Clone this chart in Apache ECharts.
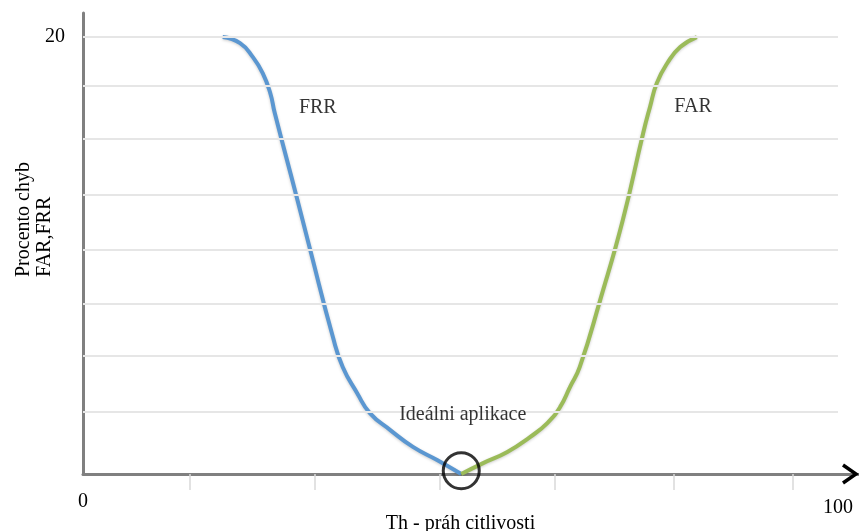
<!DOCTYPE html>
<html>
<head>
<meta charset="utf-8">
<script src="https://cdn.jsdelivr.net/npm/echarts@6/dist/echarts.min.js"></script>
<style>
html,body{margin:0;padding:0;background:#fff;}
#chart{width:859px;height:531px;}
</style>
</head>
<body>
<div id="chart"></div>
<script>
// ---- data ----
var frrData = [
  [18.5,20.0],[20.8,19.72],[22.5,19.08],[23.8,18.35],[24.8,17.44],[25.4,16.52],
  [28.3,12.68],[30.1,10.25],[33.1,6.27],[34.4,4.9],[36.3,3.71],[38.0,2.79],
  [40.7,2.01],[43.7,1.24],[46.9,0.64],[50.1,0.0]
];
var farData = [
  [50.1,0.0],[53.0,0.5],[56.2,1.01],[59.2,1.69],[61.5,2.33],[63.2,3.07],
  [64.5,3.98],[65.8,4.9],[68.5,7.96],[71.5,11.62],[74.2,15.61],[75.1,16.8],
  [76.0,17.89],[77.4,18.81],[79.1,19.54],[81.3,20.0]
];
var idealPoint = [[50.1,0.15]];
var gridValues = [20, 17.75, 15.35, 12.8, 10.25, 7.8, 5.4, 2.85];
var xTickValues = [14.2, 30.7, 47.2, 62.5, 78.3, 94.0];
var xLabelValues = [0, 100];
var yLabelValues = [20];
var annotations = [
  {name:'FRR', value:[31.1,16.75]},
  {name:'FAR', value:[80.8,16.8]},
  {name:'Ideálni aplikace', value:[50.3,2.7]}
];
var xAxisTitle = 'Th - práh citlivosti';
var yAxisTitle = 'Procento chyb\nFAR,FRR';

// ---- chart ----
var FONT = '"Liberation Serif", "Times New Roman", serif';
var TXT = '#000000';
var xMax = 102.65, yMax = 21.1;
var chart = echarts.init(document.getElementById('chart'), null, {renderer:'canvas'});
var option = {
  animation:false,
  backgroundColor:'#ffffff',
  grid:{left:83, right:1, top:13, bottom:57, containLabel:false, outerBoundsMode:'none'},
  xAxis:{
    type:'value', min:0, max:xMax,
    name:xAxisTitle, nameLocation:'middle', nameGap:40, nameMoveOverlap:false,
    nameTextStyle:{fontFamily:FONT, fontSize:20, color:TXT, padding:[0,20,0,0]},
    axisLine:{show:true, lineStyle:{color:'#808080', width:3}},
    axisTick:{show:true, customValues:xTickValues, length:16, lineStyle:{color:'#d9d9d9', width:1.5}},
    axisLabel:{show:true, customValues:xLabelValues, margin:18,
      formatter:function(v){ return v===0 ? '{a|0}' : '{b|' + v + '}'; },
      rich:{
        a:{fontFamily:FONT, fontSize:20, color:TXT},
        b:{fontFamily:FONT, fontSize:20, color:TXT, padding:[6,0,0,0]}
      }},
    splitLine:{show:false}
  },
  yAxis:{
    type:'value', min:0, max:yMax,
    axisLine:{show:true, lineStyle:{color:'#808080', width:3}},
    axisTick:{show:false},
    axisLabel:{show:true, customValues:yLabelValues, margin:18, fontFamily:FONT, fontSize:20, color:TXT},
    splitLine:{show:false}
  },
  series:[
    {
      type:'line', data:[[0,0],[0,0]], z:1, silent:true, showSymbol:false,
      lineStyle:{opacity:0},
      markLine:{
        silent:true, symbol:['none','none'], animation:false,
        label:{show:false},
        lineStyle:{color:'#e6e6e6', width:2, type:'solid'},
        data:gridValues.map(function(v){ return [{coord:[0,v]},{coord:[100,v]}]; })
      }
    },
    {
      name:'FRR', type:'line', data:frrData, smooth:0.5, showSymbol:false, z:3,
      lineStyle:{color:'#5b97d1', width:4, shadowColor:'rgba(0,0,0,0.2)', shadowBlur:3, shadowOffsetY:1}
    },
    {
      name:'FAR', type:'line', data:farData, smooth:0.5, showSymbol:false, z:3,
      lineStyle:{color:'#9bbb59', width:4, shadowColor:'rgba(0,0,0,0.2)', shadowBlur:3, shadowOffsetY:1}
    },
    {
      type:'scatter', data:idealPoint, symbol:'circle', symbolSize:36, z:4, silent:true,
      itemStyle:{color:'rgba(0,0,0,0)', borderColor:'#000', borderWidth:3}
    },
    {
      type:'scatter', data:annotations, symbolSize:0, z:5, silent:true,
      label:{show:true, position:'inside', formatter:'{b}', fontFamily:FONT, fontSize:20, color:TXT}
    }
  ]
};
chart.setOption(option);

// arrowheads and rotated y-axis title
var top = chart.convertToPixel({gridIndex:0}, [0, yMax]);
var right = chart.convertToPixel({gridIndex:0}, [xMax, 0]);
chart.setOption({
  graphic:[
    {type:'polyline', z:100, shape:{points:[[top[0]-9,top[1]+14],[top[0],top[1]+1],[top[0]+9,top[1]+14]]},
      style:{stroke:'#000', lineWidth:3.5, fill:null, lineJoin:'miter'}},
    {type:'polyline', z:100, shape:{points:[[right[0]-15,right[1]-9],[right[0]-2,right[1]],[right[0]-15,right[1]+9]]},
      style:{stroke:'#000', lineWidth:3.5, fill:null, lineJoin:'miter'}},
    {type:'text', z:100, x:34, y:277, rotation:Math.PI/2,
      style:{text:yAxisTitle, font:'20px ' + FONT, fill:TXT, align:'left', verticalAlign:'middle',
        textAlign:'left', textVerticalAlign:'middle', lineHeight:21}}
  ]
});
</script>
</body>
</html>
